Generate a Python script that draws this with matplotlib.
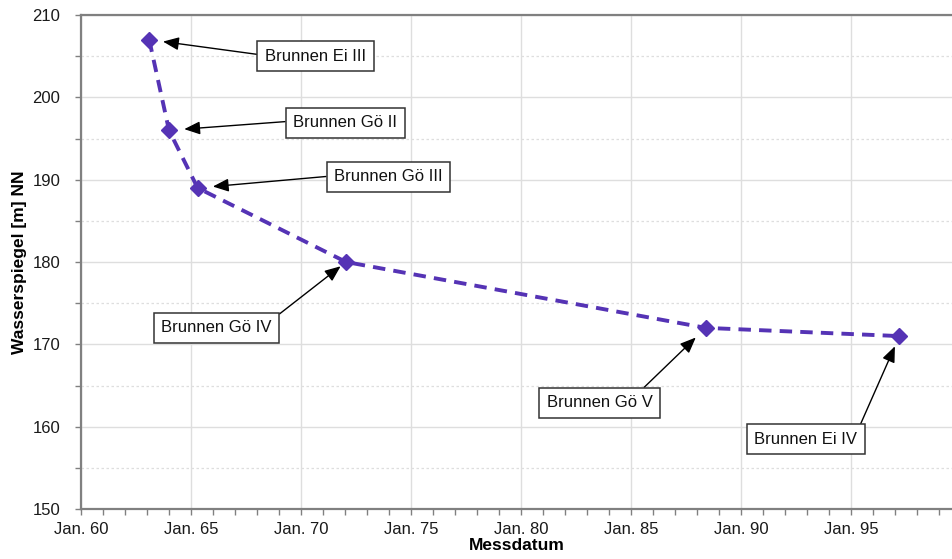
import numpy as np
import matplotlib
matplotlib.use("Agg")
import matplotlib.pyplot as plt
from matplotlib.ticker import MultipleLocator, FuncFormatter

plt.rcParams["font.family"] = ["Liberation Sans", "DejaVu Sans"]

# measured water level per well (year as decimal, 19xx)
years = [63.1, 64.0, 65.3, 72.05, 88.4, 97.2]
levels = [207, 196, 189, 180, 172, 171]
wells = ["Brunnen Ei III", "Brunnen Gö II", "Brunnen Gö III",
         "Brunnen Gö IV", "Brunnen Gö V", "Brunnen Ei IV"]

# label box placement (left edge / vertical centre, data units) and arrow start
label_pos = [(68.36, 205.0), (69.64, 196.94), (71.5, 190.38),
             (63.64, 172.03), (81.18, 162.9), (90.6, 158.48)]
arrow_rel = [(0, 0.55), (0, 0.6), (0, 0.55), (1, 1), (0.84, 1), (1, 1)]
arrow_gap = [10, 11, 11, 5, 10, 8]

line_col = "#5533b5"
grid_col = "#dedede"

fig = plt.figure(figsize=(9.53, 5.59), dpi=100)
ax = fig.add_axes([81 / 953, 1 - 509 / 559, 1 - 81 / 953, (509 - 15) / 559])

ax.plot(years, levels, ls=(0, (3.2, 2.1)), lw=2.8, color=line_col,
        marker="D", ms=8, mfc=line_col, mec=line_col, zorder=3)

for name, yr, lv, (tx, ty), rel, gap in zip(wells, years, levels, label_pos,
                                            arrow_rel, arrow_gap):
    ax.annotate(name, xy=(yr, lv), xytext=(tx, ty), fontsize=12,
                ha="left", va="center", color="#111111",
                bbox=dict(boxstyle="square,pad=0.45", fc="white",
                          ec="#333333", lw=1.1),
                arrowprops=dict(arrowstyle="-|>,head_length=0.8,head_width=0.33",
                                color="black", lw=1.0, relpos=rel,
                                shrinkA=0, shrinkB=gap, mutation_scale=12),
                zorder=4)

ax.set_xlim(60, 60 + (953 - 81) / 22)
ax.set_ylim(150, 210)

ax.xaxis.set_major_locator(MultipleLocator(5))
ax.xaxis.set_minor_locator(MultipleLocator(1))
ax.xaxis.set_major_formatter(FuncFormatter(lambda v, p: f"Jan. {int(round(v)) % 100:02d}"))
ax.yaxis.set_major_locator(MultipleLocator(10))
ax.yaxis.set_minor_locator(MultipleLocator(5))

ax.grid(True, which="major", color=grid_col, lw=1.0, ls="-")
ax.grid(True, which="minor", axis="y", color=grid_col, lw=0.9, ls=(0, (2, 2)))
ax.set_axisbelow(True)

for side in ["left", "bottom", "top"]:
    ax.spines[side].set_color("#808080")
    ax.spines[side].set_linewidth(1.6)
ax.spines["right"].set_visible(False)

ax.tick_params(which="both", direction="out", length=4, width=1,
               color="#808080", labelsize=12, labelcolor="#1a1a1a")
ax.tick_params(axis="x", which="both", top=False, pad=5)
ax.tick_params(axis="y", pad=11)

ax.set_xlabel("Messdatum", fontsize=12.5, fontweight="bold", labelpad=1)
ax.set_ylabel("Wasserspiegel [m] NN", fontsize=12.5, fontweight="bold", labelpad=4)

fig.savefig("out.png", dpi=100)
